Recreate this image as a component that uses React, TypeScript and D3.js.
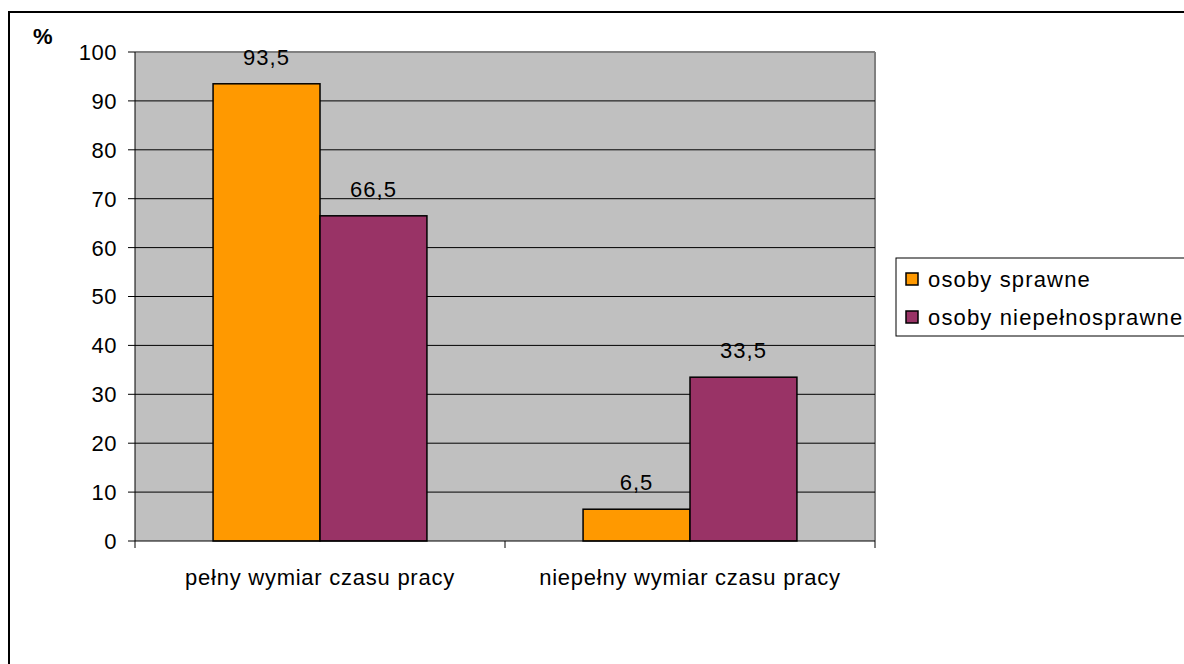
import React from "react";
import * as d3 from "d3";

const categories = ["pełny wymiar czasu pracy", "niepełny wymiar czasu pracy"];
const seriesNames = ["osoby sprawne", "osoby niepełnosprawne"];
const sprawne = [93.5, 6.5];
const niepelnosprawne = [66.5, 33.5];
const yTicks = [0, 10, 20, 30, 40, 50, 60, 70, 80, 90, 100];
const colors = ["#FF9900", "#993366"];

const FONT = "'Liberation Sans', Arial, sans-serif";

export default function App() {
  const W = 1184;
  const H = 664;
  const left = 135, right = 875, top = 52, bottom = 541;
  const y = d3.scaleLinear().domain([0, 100]).range([bottom, top]);
  const x0 = d3.scaleBand<string>().domain(categories).range([left, right]).paddingInner(0).paddingOuter(0);
  const bw = x0.bandwidth();
  const barW = bw * 0.289;
  const x1 = d3.scaleBand<string>().domain(seriesNames).range([bw / 2 - barW, bw / 2 + barW]);
  const values = [sprawne, niepelnosprawne];
  const fmt = (v: number) => d3.format(".1f")(v).replace(".", ",");

  return (
    <svg width={W} height={H} style={{ position: "fixed", left: 0, top: 0, background: "#fff" }} fontFamily={FONT}>
      {/* outer chart frame */}
      <rect x={9} y={12} width={W + 20} height={H + 20} fill="#fff" stroke="#000" strokeWidth={2} />
      {/* plot area */}
      <rect x={left} y={top} width={right - left} height={bottom - top} fill="#C0C0C0" />
      <line x1={left} x2={right} y1={top} y2={top} stroke="#808080" strokeWidth={2} />
      <line x1={right} x2={right} y1={top} y2={bottom} stroke="#808080" strokeWidth={2} />
      {yTicks.filter(t => t > 0 && t < 100).map(t => (
        <line key={t} x1={left} x2={right} y1={y(t)} y2={y(t)} stroke="#000" strokeWidth={1} />
      ))}
      {/* bars */}
      {categories.map((c, ci) => (
        <g key={c} transform={`translate(${x0(c)},0)`}>
          {seriesNames.map((s, si) => {
            const v = values[si][ci];
            const bx = x1(s)!;
            return (
              <g key={s}>
                <rect x={bx} y={y(v)} width={x1.bandwidth()} height={y(0) - y(v)} fill={colors[si]} stroke="#000" strokeWidth={1.5} />
                <text x={bx + x1.bandwidth() / 2} y={y(v) - 19} textAnchor="middle" fontSize={22} letterSpacing={1} fill="#000">
                  {fmt(v)}
                </text>
              </g>
            );
          })}
        </g>
      ))}
      {/* y axis */}
      <line x1={left} x2={left} y1={top} y2={bottom} stroke="#000" strokeWidth={1} />
      {yTicks.map(t => (
        <g key={t}>
          <line x1={left - 7} x2={left} y1={y(t)} y2={y(t)} stroke="#000" strokeWidth={1} />
          <text x={117} y={y(t)} dy="0.36em" textAnchor="end" fontSize={22} letterSpacing={0.5} fill="#000">
            {t}
          </text>
        </g>
      ))}
      {/* x axis */}
      <line x1={left} x2={right} y1={bottom} y2={bottom} stroke="#000" strokeWidth={1} />
      {[left, ...categories.map(c => x0(c)! + bw)].map((tx, i) => (
        <line key={i} x1={tx} x2={tx} y1={bottom} y2={bottom + 7} stroke="#000" strokeWidth={1} />
      ))}
      {categories.map(c => (
        <text key={c} x={x0(c)! + bw / 2} y={585} textAnchor="middle" fontSize={22} letterSpacing={0.75} fill="#000">
          {c}
        </text>
      ))}
      {/* % label */}
      <text x={33} y={44} fontSize={22} fontWeight="bold" fill="#000">%</text>
      {/* legend */}
      <rect x={896} y={258} width={320} height={78} fill="#fff" stroke="#000" strokeWidth={1} />
      {seriesNames.map((s, i) => {
        const cy = 279 + i * 38;
        return (
          <g key={s}>
            <rect x={906} y={cy - 6} width={12} height={12} fill={colors[i]} stroke="#000" strokeWidth={1.5} />
            <text x={928} y={cy} dy="0.36em" fontSize={22} letterSpacing={1.15} fill="#000">{s}</text>
          </g>
        );
      })}
    </svg>
  );
}
